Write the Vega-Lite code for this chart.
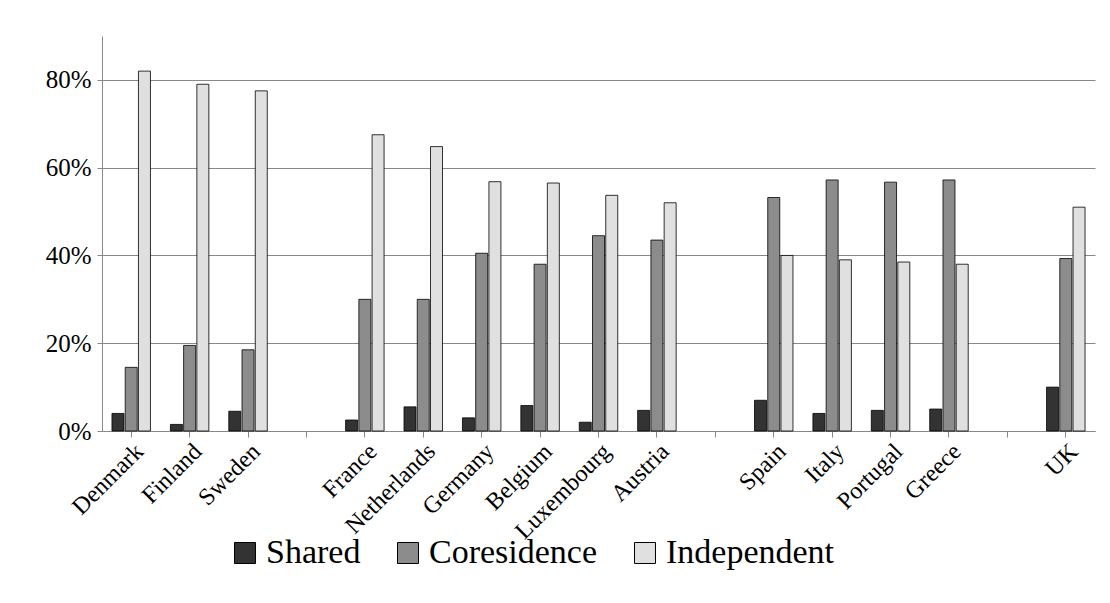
{
  "$schema": "https://vega.github.io/schema/vega-lite/v6.json",
  "autosize": "none",
  "width": 993,
  "height": 395,
  "padding": {"left": 102, "top": 36, "right": 15, "bottom": 172},
  "background": "white",
  "config": {
    "font": "Liberation Serif",
    "view": {"stroke": null}
  },
  "data": {
    "values": [
      {"country": "Denmark", "type": "Shared", "value": 0.04},
      {"country": "Denmark", "type": "Coresidence", "value": 0.145},
      {"country": "Denmark", "type": "Independent", "value": 0.82},
      {"country": "Finland", "type": "Shared", "value": 0.015},
      {"country": "Finland", "type": "Coresidence", "value": 0.195},
      {"country": "Finland", "type": "Independent", "value": 0.79},
      {"country": "Sweden", "type": "Shared", "value": 0.045},
      {"country": "Sweden", "type": "Coresidence", "value": 0.185},
      {"country": "Sweden", "type": "Independent", "value": 0.775},
      {"country": "France", "type": "Shared", "value": 0.025},
      {"country": "France", "type": "Coresidence", "value": 0.30},
      {"country": "France", "type": "Independent", "value": 0.675},
      {"country": "Netherlands", "type": "Shared", "value": 0.055},
      {"country": "Netherlands", "type": "Coresidence", "value": 0.30},
      {"country": "Netherlands", "type": "Independent", "value": 0.648},
      {"country": "Germany", "type": "Shared", "value": 0.03},
      {"country": "Germany", "type": "Coresidence", "value": 0.405},
      {"country": "Germany", "type": "Independent", "value": 0.568},
      {"country": "Belgium", "type": "Shared", "value": 0.058},
      {"country": "Belgium", "type": "Coresidence", "value": 0.38},
      {"country": "Belgium", "type": "Independent", "value": 0.565},
      {"country": "Luxembourg", "type": "Shared", "value": 0.02},
      {"country": "Luxembourg", "type": "Coresidence", "value": 0.445},
      {"country": "Luxembourg", "type": "Independent", "value": 0.537},
      {"country": "Austria", "type": "Shared", "value": 0.047},
      {"country": "Austria", "type": "Coresidence", "value": 0.435},
      {"country": "Austria", "type": "Independent", "value": 0.52},
      {"country": "Spain", "type": "Shared", "value": 0.07},
      {"country": "Spain", "type": "Coresidence", "value": 0.532},
      {"country": "Spain", "type": "Independent", "value": 0.40},
      {"country": "Italy", "type": "Shared", "value": 0.04},
      {"country": "Italy", "type": "Coresidence", "value": 0.572},
      {"country": "Italy", "type": "Independent", "value": 0.39},
      {"country": "Portugal", "type": "Shared", "value": 0.047},
      {"country": "Portugal", "type": "Coresidence", "value": 0.567},
      {"country": "Portugal", "type": "Independent", "value": 0.385},
      {"country": "Greece", "type": "Shared", "value": 0.05},
      {"country": "Greece", "type": "Coresidence", "value": 0.572},
      {"country": "Greece", "type": "Independent", "value": 0.38},
      {"country": "UK", "type": "Shared", "value": 0.10},
      {"country": "UK", "type": "Coresidence", "value": 0.393},
      {"country": "UK", "type": "Independent", "value": 0.51}
    ]
  },
  "mark": {"type": "bar", "stroke": "black", "strokeWidth": 0.8, "width": 12},
  "encoding": {
    "x": {
      "field": "country",
      "type": "nominal",
      "scale": {
        "domain": ["Denmark", "Finland", "Sweden", "g1", "France", "Netherlands", "Germany", "Belgium", "Luxembourg", "Austria", "g2", "Spain", "Italy", "Portugal", "Greece", "g3", "UK"],
        "paddingInner": 0.32,
        "paddingOuter": 0.16
      },
      "title": null,
      "axis": {
        "labelExpr": "indexof(['g1','g2','g3'], datum.label) >= 0 ? '' : datum.label",
        "labelAngle": -45,
        "labelAlign": "right",
        "labelBaseline": "top",
        "labelFontSize": 24,
        "labelColor": "black",
        "labelOverlap": false,
        "ticks": true,
        "tickColor": "#888",
        "tickSize": 6,
        "domain": true,
        "domainColor": "#888",
        "labelPadding": 2
      }
    },
    "xOffset": {
      "field": "type",
      "sort": ["Shared", "Coresidence", "Independent"]
    },
    "y": {
      "field": "value",
      "type": "quantitative",
      "scale": {"domain": [0, 0.9]},
      "title": null,
      "axis": {
        "format": ".0%",
        "values": [0, 0.2, 0.4, 0.6, 0.8],
        "labelFontSize": 25,
        "labelColor": "black",
        "gridColor": "#888",
        "domainColor": "#888",
        "tickColor": "#888",
        "labelPadding": 6
      }
    },
    "color": {
      "field": "type",
      "sort": ["Shared", "Coresidence", "Independent"],
      "scale": {
        "domain": ["Shared", "Coresidence", "Independent"],
        "range": ["#333333", "#8c8c8c", "#e0e0e0"]
      },
      "title": null,
      "legend": {
        "orient": "none",
        "direction": "horizontal",
        "legendX": 126,
        "legendY": 500,
        "symbolType": "square",
        "symbolSize": 440,
        "symbolStrokeColor": "black",
        "symbolStrokeWidth": 1,
        "labelFontSize": 34,
        "labelLimit": 400,
        "labelColor": "black",
        "columnPadding": 30,
        "labelOffset": 4
      }
    }
  }
}
